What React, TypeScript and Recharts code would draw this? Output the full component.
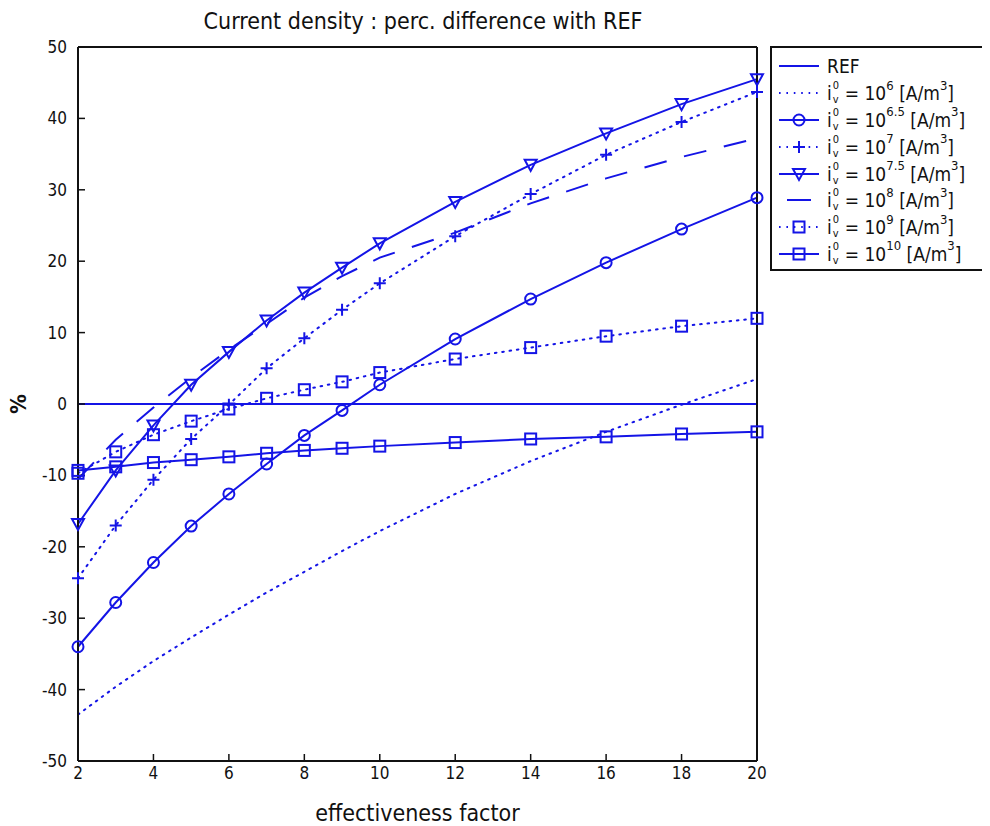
import React from 'react';
import { LineChart, Line, XAxis, YAxis, Label } from 'recharts';

// effectiveness factor values where the curves were sampled
const factors = [2, 3, 4, 5, 6, 7, 8, 9, 10, 12, 14, 16, 18, 20];

// percentage difference with REF
const ref = [0, 0, 0, 0, 0, 0, 0, 0, 0, 0, 0, 0, 0, 0];
const e6 = [-43.5, -39.6, -36, -32.7, -29.5, -26.4, -23.5, -20.6, -17.8, -12.6, -8.0, -3.9, -0.1, 3.5];
const e65 = [-34, -27.8, -22.2, -17.1, -12.6, -8.4, -4.4, -0.9, 2.7, 9.1, 14.7, 19.8, 24.5, 28.9];
const e7 = [-24.4, -17, -10.6, -4.9, -0.1, 5.0, 9.2, 13.2, 16.9, 23.5, 29.4, 34.9, 39.5, 43.7];
const e75 = [-16.8, -9.3, -3.0, 2.7, 7.3, 11.7, 15.6, 19.1, 22.5, 28.3, 33.5, 37.9, 42.0, 45.5];
const e8 = [-10.5, -5, -0.5, 3.7, 7.6, 11.2, 14.9, 17.9, 20.5, 24.0, 28.1, 31.6, 34.6, 37.2];
const e9 = [-9.7, -6.7, -4.3, -2.4, -0.7, 0.8, 2.0, 3.1, 4.4, 6.3, 7.9, 9.5, 10.9, 12.0];
const e10 = [-9.3, -8.8, -8.2, -7.8, -7.4, -6.9, -6.5, -6.2, -5.9, -5.4, -4.9, -4.6, -4.2, -3.9];

const xTicks = [2, 4, 6, 8, 10, 12, 14, 16, 18, 20];
const yTicks = [-50, -40, -30, -20, -10, 0, 10, 20, 30, 40, 50];

const BLUE = '#1414e6';
const INK = '#111';
const FONT = '"DejaVu Sans Condensed", "DejaVu Sans", sans-serif';
const DOTTED = '1.6 5.8';
const DASHED = '23 18';

type Series = { key: string; exp: string | null; values: number[]; dash?: string; marker?: string };

const series: Series[] = [
  { key: 'ref', exp: null, values: ref },
  { key: 'e6', exp: '6', values: e6, dash: DOTTED },
  { key: 'e65', exp: '6.5', values: e65, marker: 'circle' },
  { key: 'e7', exp: '7', values: e7, dash: DOTTED, marker: 'plus' },
  { key: 'e75', exp: '7.5', values: e75, marker: 'triangle' },
  { key: 'e8', exp: '8', values: e8, dash: DASHED },
  { key: 'e9', exp: '9', values: e9, dash: DOTTED, marker: 'square' },
  { key: 'e10', exp: '10', values: e10, marker: 'square' },
];

const rows = factors.map((x, i) => {
  const row: Record<string, number> = { x };
  series.forEach((s) => (row[s.key] = s.values[i]));
  return row;
});

const Marker = ({ kind, cx, cy }: { kind: string; cx: number; cy: number }) => {
  const common = { fill: 'none', stroke: BLUE, strokeWidth: 2 };
  if (kind === 'circle') return <circle cx={cx} cy={cy} r={5.5} {...common} />;
  if (kind === 'plus')
    return <path d={`M${cx - 6},${cy}H${cx + 6}M${cx},${cy - 6}V${cy + 6}`} {...common} />;
  if (kind === 'triangle')
    return <path d={`M${cx - 6},${cy - 5}L${cx + 6},${cy - 5}L${cx},${cy + 6}Z`} {...common} />;
  return <rect x={cx - 5.5} y={cy - 5.5} width={11} height={11} {...common} />;
};

const makeDot = (kind?: string) => {
  if (!kind) return false;
  return (p: any) => {
    if (p.cx == null || p.cy == null) return <g key={p.index} />;
    return <Marker key={p.index} kind={kind} cx={p.cx} cy={p.cy} />;
  };
};

const YLabel = (props: any) => {
  const vb = props.viewBox;
  const x = vb.x + 18;
  const y = vb.y + vb.height / 2;
  return (
    <text x={x} y={y} transform={`rotate(-90, ${x}, ${y})`} textAnchor="middle" dominantBaseline="central"
      fontSize={22} fontWeight="bold" fill={INK} fontFamily={FONT}>
      %
    </text>
  );
};

// "i" with a superscript 0 and a subscript v, then "= 10^exp [A/m^3]"
const LegendLabel = ({ exp }: { exp: string | null }) => {
  if (!exp) return <span>REF</span>;
  const small = { fontSize: 11, lineHeight: '11px', display: 'block', height: 11 };
  const sup = { fontSize: 13, lineHeight: '13px', display: 'inline-block', transform: 'translateY(-8px)' };
  return (
    <span style={{ display: 'inline-flex', alignItems: 'center', whiteSpace: 'nowrap' }}>
      <span>i</span>
      <span style={{ display: 'inline-block', width: 9, height: 26, marginLeft: 1, marginRight: 3, position: 'relative' }}>
        <span style={{ ...small, position: 'absolute', left: 0, top: 0 }}>0</span>
        <span style={{ ...small, position: 'absolute', left: 0, top: 14 }}>v</span>
      </span>
      <span>= 10</span>
      <span style={sup}>{exp}</span>
      <span>&nbsp;[A/m</span>
      <span style={sup}>3</span>
      <span>]</span>
    </span>
  );
};

const LegendBox = () => (
  <div
    style={{
      position: 'absolute', left: 770, top: 46, width: 217, height: 225, boxSizing: 'border-box',
      border: '2px solid ' + INK, background: '#fff', padding: '5px 0 0 5px', fontFamily: FONT, fontSize: 19, color: INK,
    }}
  >
    {series.map((s) => (
      <div key={s.key} style={{ height: 26.8, display: 'flex', alignItems: 'center' }}>
        <svg width={46} height={20} style={{ flex: 'none' }}>
          <line x1={2} y1={10} x2={42} y2={10} stroke={BLUE} strokeWidth={2}
            strokeDasharray={s.dash === DASHED ? '0 8 24 8' : s.dash} />
          {s.marker && <Marker kind={s.marker} cx={22} cy={10} />}
        </svg>
        <span style={{ marginLeft: 4 }}>
          <LegendLabel exp={s.exp} />
        </span>
      </div>
    ))}
  </div>
);

const axisLine = { stroke: INK, strokeWidth: 2 };
const tickLine = { stroke: INK, strokeWidth: 1.5 };
const tickText = { fill: INK, fontSize: 17, fontFamily: FONT };

export default function App() {
  return (
    <div style={{ position: 'relative', width: 990, height: 826, margin: '-8px 0 0 -8px', background: '#fff', fontFamily: FONT }}>
      <div style={{ position: 'absolute', left: 0, width: 846, top: 8, textAlign: 'center', fontSize: 23, color: INK }}>
        Current density : perc. difference with REF
      </div>
      <LineChart width={990} height={826} data={rows} margin={{ top: 46, right: 232, bottom: 0, left: 0 }}>
        <XAxis dataKey="x" type="number" domain={[2, 20]} ticks={xTicks} height={65} tickSize={-7} tickMargin={13}
          axisLine={axisLine} tickLine={tickLine} tick={tickText}>
          <Label value="effectiveness factor" position="insideBottom" offset={5} fill={INK} fontSize={23} fontFamily={FONT} />
        </XAxis>
        <XAxis xAxisId="top" orientation="top" dataKey="x" type="number" domain={[2, 20]} ticks={xTicks} height={1}
          tickSize={-7} tick={false} axisLine={axisLine} tickLine={tickLine} />
        <YAxis type="number" domain={[-50, 50]} ticks={yTicks} width={78} tickSize={-7} tickMargin={18} interval={0}
          axisLine={axisLine} tickLine={tickLine} tick={tickText}>
          <Label content={<YLabel />} />
        </YAxis>
        <YAxis yAxisId="right" orientation="right" type="number" domain={[-50, 50]} ticks={yTicks} width={1} interval={0}
          tickSize={-7} tick={false} axisLine={axisLine} tickLine={tickLine} />
        {series.map((s) => (
          <Line key={s.key} dataKey={s.key} type="linear" stroke={BLUE} strokeWidth={2}
            strokeDasharray={s.dash} strokeLinecap={s.dash === DOTTED ? 'round' : 'butt'}
            dot={makeDot(s.marker)} activeDot={false} isAnimationActive={false} />
        ))}
      </LineChart>
      <LegendBox />
    </div>
  );
}
